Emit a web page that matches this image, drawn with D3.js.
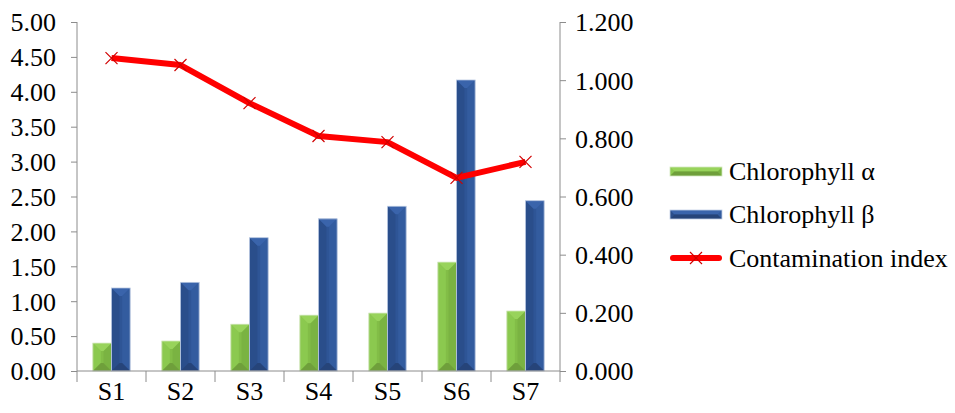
<!DOCTYPE html>
<html>
<head>
<meta charset="utf-8">
<script src="https://cdn.jsdelivr.net/npm/d3@7/dist/d3.min.js"></script>
</head>
<body style="margin:0">
<svg id="chart" width="955" height="413"></svg>
<script>
// Sampling sites and measured values
const sites = ["S1", "S2", "S3", "S4", "S5", "S6", "S7"];
const chlorophyllA = [0.40, 0.43, 0.67, 0.80, 0.83, 1.56, 0.86];
const chlorophyllB = [1.19, 1.27, 1.91, 2.18, 2.36, 4.17, 2.44];
const contamination = [1.076, 1.052, 0.921, 0.808, 0.787, 0.664, 0.719];
const leftTicks = [0, 0.5, 1, 1.5, 2, 2.5, 3, 3.5, 4, 4.5, 5];
const rightTicks = [0, 0.2, 0.4, 0.6, 0.8, 1.0, 1.2];
const seriesNames = ["Chlorophyll \u03b1", "Chlorophyll \u03b2", "Contamination index"];

const FONT = "Liberation Serif";
const FONT_SIZE = 26;
const svg = d3.select("#chart");
const plot = { left: 77, right: 560, top: 22, bottom: 371 };
const axisColor = "#8c8c8c";

// Apply the serif face to a text selection
function serif(sel) {
  return sel.attr("font-family", FONT).style("font-family", `'${FONT}'`)
    .attr("font-size", FONT_SIZE).attr("fill", "#000");
}

const x = d3.scaleBand().domain(sites).range([plot.left, plot.right]).paddingInner(0).paddingOuter(0);
const yL = d3.scaleLinear().domain([0, 5]).range([plot.bottom, plot.top]);
const yR = d3.scaleLinear().domain([0, 1.2]).range([plot.bottom, plot.top]);
const sub = d3.scaleBand().domain([0, 1]).range([0, x.bandwidth()]).paddingOuter(0.85).paddingInner(0);

const palettes = [
  { face: "#82bd47", top: "#98d35b", bottom: "#6f9f3b", left: "#8bc94f", right: "#7ab342", edge: "#d3e8bf" },
  { face: "#2e5596", top: "#3a64ab", bottom: "#264479", left: "#2a4e8b", right: "#335c9f", edge: "#c3d0e6" }
];

// Bevelled bar: four trapezoids around a flat face
function bevelBar(g, x0, y0, w, h, pal) {
  const d = Math.min(w / 2, 8, h / 2);
  const x1 = x0 + w, y1 = y0 + h;
  const poly = (pts, fill) => g.append("polygon").attr("points", pts.map(p => p.join(",")).join(" ")).attr("fill", fill);
  poly([[x0, y0], [x1, y0], [x1, y1], [x0, y1]], pal.face);
  poly([[x0, y0], [x0 + d, y0 + d], [x0 + d, y1 - d], [x0, y1]], pal.left);
  poly([[x1, y0], [x1 - d, y0 + d], [x1 - d, y1 - d], [x1, y1]], pal.right);
  poly([[x0, y0], [x1, y0], [x1 - d, y0 + d], [x0 + d, y0 + d]], pal.top);
  poly([[x0, y1], [x1, y1], [x1 - d, y1 - d], [x0 + d, y1 - d]], pal.bottom);
  g.append("rect").attr("x", x0).attr("y", y0).attr("width", w).attr("height", h)
    .attr("fill", "none").attr("stroke", pal.edge).attr("stroke-width", 0.8);
}

// Bars
const barsG = svg.append("g");
[chlorophyllA, chlorophyllB].forEach((vals, si) => {
  vals.forEach((v, i) => {
    const bx = x(sites[i]) + sub(si);
    const by = yL(v);
    bevelBar(barsG, bx, by, sub.bandwidth(), yL(0) - by, palettes[si]);
  });
});

// Left and right value axes
const gl = svg.append("g").attr("transform", `translate(${plot.left},0)`)
  .call(d3.axisLeft(yL).tickValues(leftTicks).tickFormat(d3.format(".2f")).tickSize(6).tickPadding(15));
const gr = svg.append("g").attr("transform", `translate(${plot.right},0)`)
  .call(d3.axisRight(yR).tickValues(rightTicks).tickFormat(d3.format(".3f")).tickSize(6).tickPadding(9));
[gl, gr].forEach(g => {
  g.attr("font-family", FONT);
  g.select(".domain").remove();
  g.selectAll(".tick line").attr("stroke", axisColor);
  serif(g.selectAll("text")).attr("dy", "0.34em");
});
svg.append("line").attr("x1", plot.left).attr("x2", plot.left).attr("y1", plot.top).attr("y2", plot.bottom).attr("stroke", axisColor);
svg.append("line").attr("x1", plot.right).attr("x2", plot.right).attr("y1", plot.top).attr("y2", plot.bottom).attr("stroke", axisColor);

// Category axis with boundary ticks
const gb = svg.append("g").attr("transform", `translate(0,${plot.bottom})`);
gb.append("line").attr("x1", plot.left).attr("x2", plot.right).attr("stroke", axisColor);
const bounds = sites.map(s => x(s)).concat([plot.right]);
gb.selectAll("line.tk").data(bounds).join("line").attr("class", "tk")
  .attr("x1", d => d).attr("x2", d => d).attr("y1", 0).attr("y2", 11).attr("stroke", axisColor);
serif(gb.selectAll("text").data(sites).join("text"))
  .attr("x", d => x(d) + x.bandwidth() / 2).attr("y", 29)
  .attr("text-anchor", "middle").text(d => d);

// Contamination index line
const cx = d => x(d) + x.bandwidth() / 2;
const line = d3.line().x((d, i) => cx(sites[i])).y(d => yR(d));
svg.append("path").datum(contamination).attr("d", line)
  .attr("fill", "none").attr("stroke", "#ff0000").attr("stroke-width", 6).attr("stroke-linejoin", "round");

function cross(g, px, py, r) {
  g.append("path").attr("d", `M${px - r},${py - r}L${px + r},${py + r}M${px - r},${py + r}L${px + r},${py - r}`)
    .attr("stroke", "#d00000").attr("stroke-width", 1.2).attr("fill", "none");
}
const markers = svg.append("g");
contamination.forEach((v, i) => cross(markers, cx(sites[i]), yR(v), 6));

// Legend
const leg = svg.append("g");
const legY = [171, 214, 258];
bevelBar(leg, 670, legY[0] - 4, 52, 9, palettes[0]);
bevelBar(leg, 670, legY[1] - 4, 52, 9, palettes[1]);
leg.append("line").attr("x1", 673).attr("x2", 719).attr("y1", legY[2]).attr("y2", legY[2])
  .attr("stroke", "#ff0000").attr("stroke-width", 6).attr("stroke-linecap", "round");
cross(leg, 696, legY[2], 6);
serif(leg.selectAll("text").data(seriesNames).join("text"))
  .attr("x", 729).attr("y", (d, i) => legY[i] + 9).text(d => d);
</script>
</body>
</html>
